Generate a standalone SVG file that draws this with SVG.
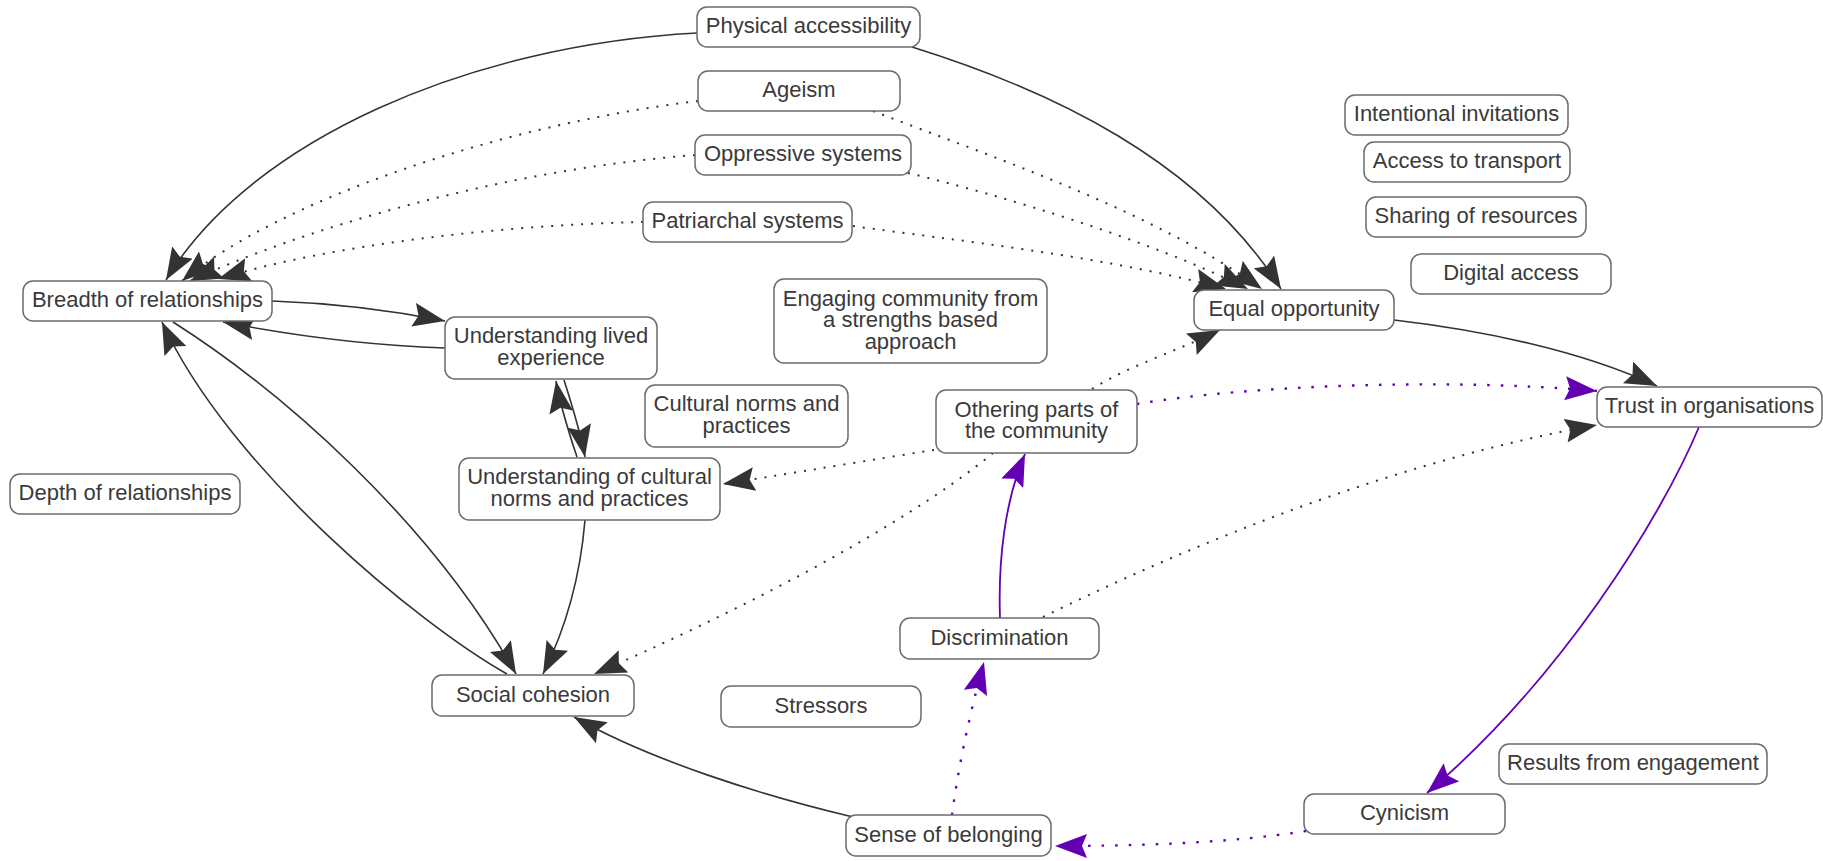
<svg xmlns="http://www.w3.org/2000/svg" width="1823" height="861" viewBox="0 0 1823 861">
  <style>
    .node rect { fill: #ffffff; stroke: #6b6b6b; stroke-width: 1.5; }
    .node text { font-family: "Liberation Sans", Arial, sans-serif; font-size: 22px; fill: #3a3a3a; text-anchor: middle; }
    .e { fill: none; stroke: #333333; stroke-width: 1.6; marker-end: url(#ah); }
    .dot { stroke-width: 2; stroke-dasharray: 2 8; }
    .p { stroke: #6400b4; stroke-width: 1.8; marker-end: url(#ahp); }
    .pdot { stroke: #6400b4; stroke-width: 2.4; stroke-dasharray: 2.5 11; marker-end: url(#ahp); }
  </style>
  <defs>
    <marker id="ah" viewBox="0 0 32 24" refX="32" refY="12" markerWidth="32" markerHeight="24" markerUnits="userSpaceOnUse" orient="auto">
      <path d="M0,0 L32,12 L0,24 L5,12 Z" fill="#333333"/>
    </marker>
    <marker id="ahp" viewBox="0 0 32 24" refX="32" refY="12" markerWidth="32" markerHeight="24" markerUnits="userSpaceOnUse" orient="auto">
      <path d="M0,0 L32,12 L0,24 L5,12 Z" fill="#6400b4"/>
    </marker>
  </defs>

  <rect width="1823" height="861" fill="#ffffff"/>

  <g id="connectors">
    <!-- Physical accessibility -->
    <path class="e" d="M697,33 C470,45 250,140 166,280"/>
    <path class="e" d="M912,47 C1050,90 1200,160 1281,289"/>
    <!-- Ageism -->
    <path class="e dot" d="M698,101 C500,125 280,200 182,281"/>
    <path class="e dot" d="M873,111 C1000,160 1150,210 1262,289"/>
    <!-- Oppressive systems -->
    <path class="e dot" d="M695,155 C500,170 300,230 190,281"/>
    <path class="e dot" d="M908,173 C1000,195 1150,240 1248,289"/>
    <!-- Patriarchal systems -->
    <path class="e dot" d="M643,222 C500,225 330,245 218,279"/>
    <path class="e dot" d="M853,226 C950,240 1100,255 1226,289"/>
    <!-- Breadth / lived experience / cultural norms -->
    <path class="e" d="M272,301 C330,303 390,310 445,321"/>
    <path class="e" d="M445,348 C360,345 290,335 223,322"/>
    <path class="e" d="M564,380 C572,405 580,430 585,457"/>
    <path class="e" d="M577,457 C568,430 560,405 556,381"/>
    <path class="e" d="M173,322 C280,390 430,520 516,674"/>
    <path class="e" d="M507,674 C420,625 230,470 162,322"/>
    <path class="e" d="M585,520 C580,580 565,630 543,674"/>
    <!-- Othering parts of the community -->
    <path class="e dot" d="M934,450 C870,460 800,472 723,484"/>
    <path class="e dot" d="M993,453 C900,530 720,620 594,674"/>
    <path class="e dot" d="M1092,389 C1130,365 1180,350 1220,330"/>
    <path class="e pdot" d="M1137,404 C1250,385 1450,378 1597,391"/>
    <!-- Discrimination -->
    <path class="e p" d="M1000,618 C998,560 1005,500 1025,454"/>
    <path class="e dot" d="M1043,617 C1200,540 1400,460 1597,425"/>
    <!-- Equal opportunity / trust / cynicism loop -->
    <path class="e" d="M1394,320 C1480,330 1580,350 1657,386"/>
    <path class="e p" d="M1699,427 C1660,520 1560,680 1427,793"/>
    <path class="e pdot" d="M1306,831 C1230,843 1140,846 1055,846"/>
    <path class="e pdot" d="M952,815 C958,770 968,720 984,662"/>
    <path class="e" d="M853,817 C760,795 650,760 574,717"/>
  </g>

  <g id="n-physical" class="node"><rect x="697" y="7" width="223" height="40" rx="10"/><text x="808.5" y="33">Physical accessibility</text></g>
  <g id="n-ageism" class="node"><rect x="698" y="71" width="202" height="40" rx="10"/><text x="799" y="97">Ageism</text></g>
  <g id="n-oppressive" class="node"><rect x="695" y="135" width="216" height="40" rx="10"/><text x="803" y="161">Oppressive systems</text></g>
  <g id="n-patriarchal" class="node"><rect x="643" y="202" width="209" height="40" rx="10"/><text x="747.5" y="228">Patriarchal systems</text></g>
  <g id="n-invitations" class="node"><rect x="1345" y="95" width="223" height="40" rx="10"/><text x="1456.5" y="121">Intentional invitations</text></g>
  <g id="n-transport" class="node"><rect x="1364" y="142" width="206" height="40" rx="10"/><text x="1467" y="168">Access to transport</text></g>
  <g id="n-sharing" class="node"><rect x="1366" y="197" width="220" height="40" rx="10"/><text x="1476" y="223">Sharing of resources</text></g>
  <g id="n-digital" class="node"><rect x="1411" y="254" width="200" height="40" rx="10"/><text x="1511" y="280">Digital access</text></g>
  <g id="n-breadth" class="node"><rect x="23" y="281" width="249" height="40" rx="10"/><text x="147.5" y="307">Breadth of relationships</text></g>
  <g id="n-equal" class="node"><rect x="1194" y="290" width="200" height="40" rx="10"/><text x="1294" y="316">Equal opportunity</text></g>
  <g id="n-engaging" class="node"><rect x="774" y="279" width="273" height="84" rx="10"/><text x="910.5" y="305.5">Engaging community from</text><text x="910.5" y="327">a strengths based</text><text x="910.5" y="348.5">approach</text></g>
  <g id="n-lived" class="node"><rect x="445" y="317" width="212" height="62" rx="10"/><text x="551" y="343.2">Understanding lived</text><text x="551" y="364.7">experience</text></g>
  <g id="n-cultural" class="node"><rect x="645" y="385" width="203" height="62" rx="10"/><text x="746.5" y="411.2">Cultural norms and</text><text x="746.5" y="432.7">practices</text></g>
  <g id="n-othering" class="node"><rect x="936" y="390" width="201" height="63" rx="10"/><text x="1036.5" y="416.7">Othering parts of</text><text x="1036.5" y="438.2">the community</text></g>
  <g id="n-trust" class="node"><rect x="1597" y="387" width="225" height="40" rx="10"/><text x="1709.5" y="413">Trust in organisations</text></g>
  <g id="n-depth" class="node"><rect x="10" y="474" width="230" height="40" rx="10"/><text x="125" y="500">Depth of relationships</text></g>
  <g id="n-understanding-cultural" class="node"><rect x="459" y="458" width="261" height="62" rx="10"/><text x="589.5" y="484.2">Understanding of cultural</text><text x="589.5" y="505.7">norms and practices</text></g>
  <g id="n-discrimination" class="node"><rect x="900" y="618" width="199" height="41" rx="10"/><text x="999.5" y="644.5">Discrimination</text></g>
  <g id="n-social" class="node"><rect x="432" y="675" width="202" height="41" rx="10"/><text x="533" y="701.5">Social cohesion</text></g>
  <g id="n-stressors" class="node"><rect x="721" y="686" width="200" height="41" rx="10"/><text x="821" y="712.5">Stressors</text></g>
  <g id="n-results" class="node"><rect x="1499" y="744" width="268" height="40" rx="10"/><text x="1633" y="770">Results from engagement</text></g>
  <g id="n-cynicism" class="node"><rect x="1304" y="794" width="201" height="40" rx="10"/><text x="1404.5" y="820">Cynicism</text></g>
  <g id="n-sense" class="node"><rect x="846" y="815" width="205" height="41" rx="10"/><text x="948.5" y="841.5">Sense of belonging</text></g>
</svg>
